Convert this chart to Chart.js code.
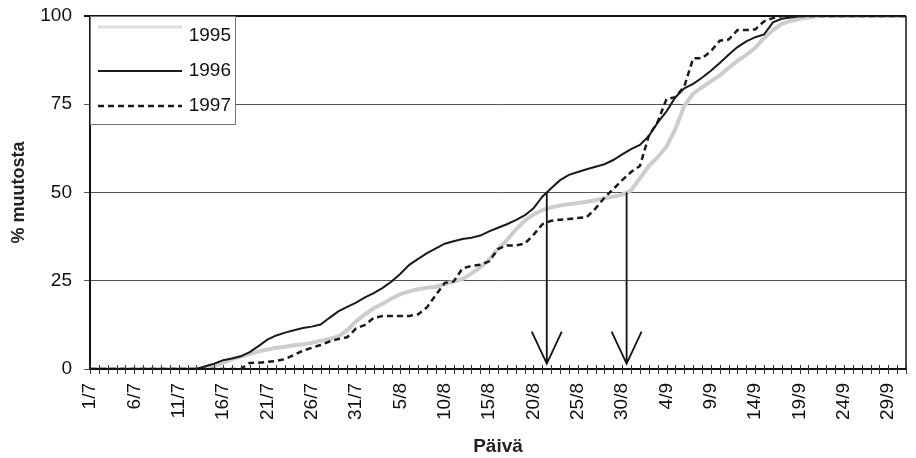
<!DOCTYPE html>
<html>
<head>
<meta charset="utf-8">
<script src="https://cdn.jsdelivr.net/npm/chart.js@4/dist/chart.umd.min.js"></script>
<style>
  body { margin: 0; background: #fff; }
  #wrap { width: 916px; height: 458px; }
</style>
</head>
<body>
<div id="wrap"><canvas id="chart" width="916" height="458"></canvas></div>
<script>
// -------------------------
// Data
// -------------------------
const days = [
  '1/7','2/7','3/7','4/7','5/7','6/7','7/7','8/7','9/7','10/7','11/7','12/7','13/7','14/7','15/7','16/7',
  '17/7','18/7','19/7','20/7','21/7','22/7','23/7','24/7','25/7','26/7','27/7','28/7','29/7','30/7','31/7',
  '1/8','2/8','3/8','4/8','5/8','6/8','7/8','8/8','9/8','10/8','11/8','12/8','13/8','14/8','15/8','16/8',
  '17/8','18/8','19/8','20/8','21/8','22/8','23/8','24/8','25/8','26/8','27/8','28/8','29/8','30/8','31/8',
  '1/9','2/9','3/9','4/9','5/9','6/9','7/9','8/9','9/9','10/9','11/9','12/9','13/9','14/9','15/9','16/9',
  '17/9','18/9','19/9','20/9','21/9','22/9','23/9','24/9','25/9','26/9','27/9','28/9','29/9','30/9','1/10'
];

const shownTicks = ['1/7','6/7','11/7','16/7','21/7','26/7','31/7','5/8','10/8','15/8','20/8','25/8',
  '30/8','4/9','9/9','14/9','19/9','24/9','29/9'];

const yTicks = [0, 25, 50, 75, 100];

const values1995 = [
  0,0,0,0,0,0,0,0,0,0,0,0,0,0,0.8,1.8,2.8,3.5,4.2,5,5.5,6,6.3,6.7,7,7.4,8,8.5,9.2,11,
  13.5,15.5,17.2,18.5,20,21.2,22,22.6,23,23.3,24,24.8,25.5,27,28.8,31,34,36.5,39.5,42,
  43.8,45,45.8,46.3,46.7,47,47.4,47.8,48.4,48.8,49.4,50.6,54,57.5,60,63,68,74.5,78,79.8,
  81.5,83.2,85.3,87.3,89,91,93.8,96,97.8,98.6,99.2,99.6,100,100,100,100,100,100,100,100,100,100,100
];

const values1996 = [
  0,0,0,0,0,0,0,0,0,0,0,0,0,0.8,1.5,2.5,3,3.6,4.8,6.5,8.3,9.5,10.3,11,11.6,12,12.6,14.5,16.3,17.6,
  18.8,20.3,21.5,23,24.8,27,29.5,31.2,32.8,34.2,35.5,36.2,36.8,37.2,37.8,39,40,41,42.2,43.5,
  45.5,48.8,51.2,53.5,55,55.8,56.6,57.3,58,59.2,60.8,62.3,63.5,66,69.8,73,77,79.5,80.8,82.5,
  84.5,86.7,89,91.2,92.8,94,94.8,98.2,99.2,99.6,99.9,100,100,100,100,100,100,100,100,100,100,100,100
];

const values1997 = [
  0,0,0,0,0,0,0,0,0,0,0,0,0,0,0,0,0,0,1.7,1.8,2,2.3,2.8,4,5.2,6,6.8,7.8,8.5,9,
  11.5,12.5,14.5,15,15,15,15,15.5,17.5,21,24.4,24.8,28.5,29.2,29.5,30.5,34,35,35,35.5,
  38,41,42,42.3,42.5,42.8,43,45.5,48.5,51,53.5,55.8,57.5,66,70,76.5,77,80,88,88,
  90,93,93.3,96,96,96.2,98.5,99.4,100,100,100,100,100,100,100,100,100,100,100,100,100,100,100
];

// arrows mark the day each of these series passes 50 %
const arrowSeries = ['1996', '1995'];
const arrowLevel = 50;
const arrowTip = 1.5;

const FONT = '"Liberation Sans", Arial, sans-serif';

// -------------------------
// Plugins
// -------------------------
const frame = {
  id: 'frame',
  afterDatasetsDraw(chart) {
    const { ctx, chartArea: a, scales } = chart;
    const x = scales.x;
    ctx.save();
    // right border
    ctx.strokeStyle = '#111';
    ctx.lineWidth = 1.5;
    ctx.beginPath();
    ctx.moveTo(a.right, a.top);
    ctx.lineTo(a.right, a.bottom);
    ctx.stroke();
    // x axis line and crossing tick marks
    ctx.lineWidth = 2;
    ctx.beginPath();
    ctx.moveTo(a.left, a.bottom);
    ctx.lineTo(a.right, a.bottom);
    ctx.stroke();
    ctx.lineWidth = 1;
    ctx.strokeStyle = '#333';
    ctx.beginPath();
    days.forEach((d, i) => {
      const px = Math.round(x.getPixelForValue(i)) + 0.5;
      ctx.moveTo(px, a.bottom - 4);
      ctx.lineTo(px, a.bottom + 5);
    });
    ctx.stroke();
    ctx.restore();
  }
};

const arrows = {
  id: 'arrows',
  afterDatasetsDraw(chart) {
    const { ctx, scales } = chart;
    ctx.save();
    ctx.strokeStyle = '#111';
    ctx.lineWidth = 1.8;
    arrowSeries.forEach(name => {
      const ds = chart.data.datasets.find(d => d.label === name);
      let pos = null;
      for (let i = 1; i < ds.data.length && pos === null; i++) {
        if (ds.data[i - 1] < arrowLevel && ds.data[i] >= arrowLevel) {
          pos = i - 1 + (arrowLevel - ds.data[i - 1]) / (ds.data[i] - ds.data[i - 1]);
        }
      }
      if (pos === null) return;
      const px = scales.x.getPixelForValue(pos);
      const top = scales.y.getPixelForValue(arrowLevel);
      const tip = scales.y.getPixelForValue(arrowTip);
      ctx.beginPath();
      ctx.moveTo(px, top);
      ctx.lineTo(px, tip);
      ctx.moveTo(px - 15, tip - 32);
      ctx.lineTo(px, tip);
      ctx.lineTo(px + 15, tip - 32);
      ctx.stroke();
    });
    ctx.restore();
  }
};

const legendBox = {
  id: 'legendBox',
  afterDraw(chart) {
    const { ctx, chartArea: a } = chart;
    ctx.save();
    ctx.fillStyle = '#fff';
    ctx.fillRect(a.left + 1, a.top + 1, 144, 107);
    ctx.strokeStyle = '#777';
    ctx.lineWidth = 1;
    ctx.strokeRect(a.left + 0.5, a.top + 0.5, 145, 108);
    ctx.font = '19px ' + FONT;
    ctx.textAlign = 'right';
    ctx.textBaseline = 'middle';
    chart.data.datasets.forEach((ds, i) => {
      const ty = a.top + 20 + i * 35;
      const ly = i === 0 ? ty - 9 : ty;
      ctx.strokeStyle = i === 0 ? '#dedede' : ds.borderColor;
      ctx.lineWidth = i === 0 ? 3 : ds.borderWidth;
      ctx.setLineDash(ds.borderDash || []);
      ctx.beginPath();
      ctx.moveTo(a.left + 8, ly);
      ctx.lineTo(a.left + 92, ly);
      ctx.stroke();
      ctx.setLineDash([]);
      ctx.fillStyle = '#111';
      ctx.fillText(ds.label, a.left + 141, ty);
    });
    ctx.restore();
  }
};

// -------------------------
// Chart
// -------------------------
const ctx = document.getElementById('chart').getContext('2d');
const chart = new Chart(ctx, {
  type: 'line',
  data: {
    labels: days,
    datasets: [
      { label: '1995', data: values1995, borderColor: '#cdcdcd', borderWidth: 4, order: 3 },
      { label: '1996', data: values1996, borderColor: '#1a1a1a', borderWidth: 2, order: 1 },
      { label: '1997', data: values1997, borderColor: '#1a1a1a', borderWidth: 2.5, borderDash: [6, 4], order: 2 }
    ]
  },
  options: {
    responsive: false,
    animation: false,
    layout: { padding: { top: 16, right: 10, left: 0, bottom: 0 } },
    elements: { point: { radius: 0 }, line: { tension: 0, borderCapStyle: 'butt' } },
    plugins: { legend: { display: false }, tooltip: { enabled: false } },
    scales: {
      x: {
        type: 'category',
        offset: false,
        grid: { display: false, drawTicks: false },
        border: { display: false },
        afterFit: s => { s.height = 89; s.paddingLeft = 0; s.paddingRight = 0; },
        ticks: {
          autoSkip: false,
          maxRotation: 90,
          minRotation: 90,
          padding: 14,
          color: '#111',
          font: { family: FONT, size: 19 },
          callback: function (v) {
            const lab = this.getLabelForValue(v);
            return shownTicks.includes(lab) ? lab : '';
          }
        },
        title: {
          display: true,
          text: 'Päivä',
          color: '#222',
          font: { family: FONT, size: 19, weight: 'bold' },
          padding: { top: 0, bottom: 0 }
        }
      },
      y: {
        min: 0,
        max: 100,
        afterFit: s => { s.width = 90; s.paddingTop = 0; s.paddingBottom = 0; },
        afterBuildTicks: s => { s.ticks = yTicks.map(v => ({ value: v })); },
        grid: {
          color: c => (c.tick && c.tick.value === 100 ? '#111' : '#555'),
          lineWidth: c => (c.tick && c.tick.value === 100 ? 2 : 1),
          tickLength: 6
        },
        border: { display: true, color: '#111', width: 2 },
        ticks: {
          padding: 12,
          color: '#111',
          font: { family: FONT, size: 19 }
        },
        title: {
          display: true,
          text: '% muutosta',
          color: '#222',
          font: { family: FONT, size: 18, weight: 'bold' },
          padding: { top: 8, bottom: 0 }
        }
      }
    }
  },
  plugins: [frame, arrows, legendBox]
});
</script>
</body>
</html>
